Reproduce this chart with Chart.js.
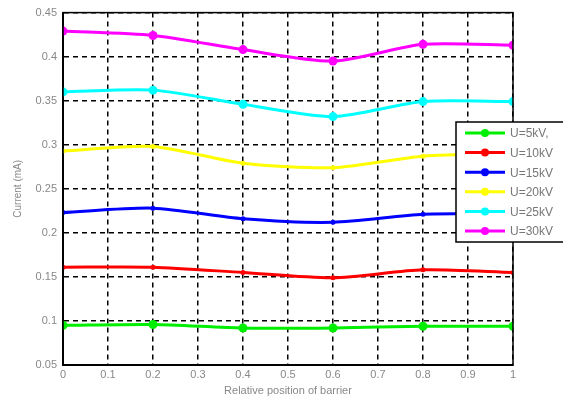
<!DOCTYPE html>
<html>
<head>
<meta charset="utf-8">
<script src="https://cdn.jsdelivr.net/npm/chart.js@4/dist/chart.umd.min.js"></script>
<style>
body{margin:0;background:#fff;}
#wrap{width:563px;height:402px;}
</style>
</head>
<body>
<div id="wrap"><canvas id="c"></canvas></div>
<script>
// barrier positions and currents (mA)
var positions = [0, 0.2, 0.4, 0.6, 0.8, 1];
var seriesLabels = ["U=5kV,", "U=10kV", "U=15kV", "U=20kV", "U=25kV", "U=30kV"];
var u5 = [0.095, 0.096, 0.092, 0.092, 0.094, 0.094];
var u10 = [0.161, 0.161, 0.155, 0.149, 0.158, 0.155];
var u15 = [0.223, 0.228, 0.216, 0.212, 0.221, 0.222];
var u20 = [0.293, 0.298, 0.279, 0.274, 0.287, 0.290];
var u25 = [0.360, 0.362, 0.346, 0.332, 0.349, 0.349];
var u30 = [0.429, 0.424, 0.408, 0.395, 0.414, 0.413];
var colors = ["#00ee00", "#ff0000", "#0000ff", "#ffff00", "#00ffff", "#ff00ff"];
var radii = [4.5, 2.5, 2.5, 2.5, 4.5, 4.5];

var allSeries = [u5, u10, u15, u20, u25, u30];
var datasets = allSeries.map(function(vals, i){
  return {
    label: seriesLabels[i],
    data: positions.map(function(p, j){ return {x: p, y: vals[j]}; }),
    borderColor: colors[i],
    backgroundColor: colors[i],
    borderWidth: 3,
    pointRadius: radii[i],
    pointBorderWidth: 0,
    tension: 0.25
  };
});

var boxPlugin = {
  id: "box",
  afterDraw: function(chart){
    var ctx = chart.ctx, a = chart.chartArea;
    ctx.save();
    ctx.strokeStyle = "#000";
    ctx.lineWidth = 1.5;
    ctx.setLineDash([]);
    ctx.strokeRect(a.left, a.top, a.right - a.left, a.bottom - a.top);
    // legend
    var lx = 456, ly = 122, lw = 120, lh = 120;
    ctx.fillStyle = "#fff";
    ctx.fillRect(lx, ly, lw, lh);
    ctx.strokeRect(lx, ly, lw, lh);
    ctx.font = "12px 'Liberation Sans', Arial, sans-serif";
    ctx.textBaseline = "middle";
    chart.data.datasets.forEach(function(ds, i){
      var y = ly + 11 + i * 19.6;
      ctx.strokeStyle = ds.borderColor;
      ctx.lineWidth = 3;
      ctx.beginPath();
      ctx.moveTo(465, y);
      ctx.lineTo(505, y);
      ctx.stroke();
      ctx.fillStyle = ds.borderColor;
      ctx.beginPath();
      ctx.arc(485, y, 4, 0, Math.PI * 2);
      ctx.fill();
      ctx.fillStyle = "#777";
      ctx.fillText(ds.label, 510, y + 1);
    });
    ctx.restore();
  }
};

new Chart(document.getElementById("c"), {
  type: "line",
  data: {datasets: datasets},
  plugins: [boxPlugin],
  options: {
    responsive: true,
    maintainAspectRatio: false,
    animation: false,
    layout: {padding: {top: 11, right: 50, left: 8, bottom: 0}},
    plugins: {legend: {display: false}, tooltip: {enabled: false}},
    scales: {
      x: {
        type: "linear",
        min: 0, max: 1,
        afterFit: function(s){ s.height = 37; },
        ticks: {stepSize: 0.1, color: "#888", font: {size: 11, family: "'Liberation Sans', Arial"}, padding: 3,
          callback: function(v){ return Math.round(v * 10) / 10; }},
        grid: {color: "#000", lineWidth: 1.5, drawTicks: false},
        border: {color: "#000", width: 2, dash: [5, 4]},
        title: {display: true, text: "Relative position of barrier", color: "#888", font: {size: 11, family: "'Liberation Sans', Arial"}, padding: {top: 4}}
      },
      y: {
        min: 0.05, max: 0.45,
        afterFit: function(s){ s.width = 55; },
        ticks: {stepSize: 0.05, color: "#888", font: {size: 11, family: "'Liberation Sans', Arial"}, padding: 6,
          callback: function(v){ return Math.round(v * 100) / 100; }},
        grid: {color: "#000", lineWidth: 1.5, drawTicks: false},
        border: {color: "#000", width: 2, dash: [5, 4]},
        title: {display: true, text: "Current (mA)", color: "#888", font: {size: 10, family: "'Liberation Sans', Arial"}, padding: {bottom: 2}}
      }
    }
  }
});
</script>
</body>
</html>
